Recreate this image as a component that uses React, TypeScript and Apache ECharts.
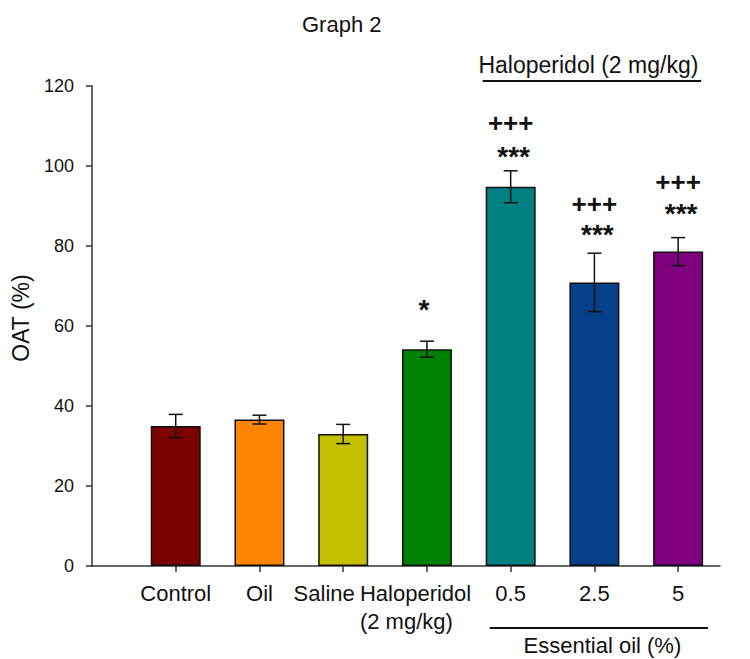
import React, { useEffect, useRef } from "react";
import * as echarts from "echarts";

// ---- data ----
const categories = ["Control", "Oil", "Saline", "Haloperidol\n(2 mg/kg)", "0.5", "2.5", "5"];
const means = [35.0, 36.6, 33.0, 54.2, 94.8, 70.9, 78.6];
const sems = [2.9, 1.1, 2.4, 2.0, 4.0, 7.3, 3.5];
const barColors = ["#7b0000", "#ff8500", "#c4c000", "#008000", "#008080", "#063f8a", "#7f007f"];
const starMarks = ["", "", "", "*", "***", "***", "***"];
const starY = [0, 0, 0, 65.7, 103.8, 84.4, 89.7];
const plusMarks = ["", "", "", "", "+++", "+++", "+++"];
const plusY = [0, 0, 0, 0, 110.8, 90.4, 96.1];
const yTicks = [0, 20, 40, 60, 80, 100, 120];
const bracketTop = "Haloperidol (2 mg/kg)";
const bracketBottom = "Essential oil (%)";
const groupStart = 4;
const groupEnd = 6;

const FONT = 'Arial, "Liberation Sans", Helvetica, sans-serif';
const BAR_W = 50;

export default function App() {
  const ref = useRef<HTMLDivElement>(null);
  useEffect(() => {
    if (!ref.current) return;
    const chart = echarts.init(ref.current, undefined, { renderer: "svg" });
    const catIdx = categories.map((_, i) => i);
    const option: any = {
      animation: false,
      backgroundColor: "#ffffff",
      textStyle: { fontFamily: FONT },
      title: {
        text: "Graph 2",
        left: 297,
        top: 8,
        textStyle: { fontFamily: FONT, fontSize: 22, fontWeight: "normal", color: "#111" },
      },
      grid: { left: 92, right: 30, top: 86, bottom: 93, outerBoundsMode: "none", containLabel: false },
      xAxis: {
        type: "value",
        min: -1,
        max: 6.5,
        interval: 1,
        splitLine: { show: false },
        axisLine: { show: true, onZero: false, lineStyle: { color: "#333", width: 1.5 } },
        axisTick: { show: true, length: 6, customValues: catIdx, lineStyle: { color: "#333", width: 1.5 } },
        axisLabel: {
          customValues: catIdx,
          fontFamily: FONT,
          fontSize: 22,
          color: "#111",
          margin: 13,
          lineHeight: 28,
          formatter: (v: number) => {
            const i = Math.round(v);
            const s = categories[i] ?? "";
            if (s.indexOf("\n") >= 0) {
              return s.split("\n").map((p) => "{h|" + p + "}").join("\n");
            }
            if (i === 2) return "{s|" + s + "}";
            return s;
          },
          rich: {
            h: {
              fontFamily: FONT,
              fontSize: 22,
              color: "#111",
              lineHeight: 28,
              width: 124,
              align: "left",
              padding: [0, 10, 0, 0],
            },
            s: { fontFamily: FONT, fontSize: 22, color: "#111", lineHeight: 28, padding: [0, 38, 0, 0] },
          },
        },
      },
      yAxis: {
        type: "value",
        min: yTicks[0],
        max: yTicks[yTicks.length - 1],
        interval: 20,
        splitLine: { show: false },
        axisLine: { show: true, onZero: false, lineStyle: { color: "#333", width: 1.5 } },
        axisTick: { show: true, length: 6, lineStyle: { color: "#333", width: 1.5 } },
        axisLabel: { fontFamily: FONT, fontSize: 18, color: "#111", margin: 18 },
        name: "OAT (%)",
        nameLocation: "middle",
        nameGap: 60,
        nameTextStyle: { fontFamily: FONT, fontSize: 23, color: "#111", padding: [0, 0, 0, 16] },
      },
      series: [
        {
          type: "bar",
          barWidth: BAR_W,
          data: means.map((v, i) => ({ value: [i, v], itemStyle: { color: barColors[i] } })),
          itemStyle: { borderColor: "#111", borderWidth: 1.5 },
          z: 2,
        },
        {
          type: "custom",
          z: 3,
          data: means.map((v, i) => [i, v, sems[i]]),
          renderItem: (_p: any, api: any) => {
            const x = api.value(0);
            const m = api.value(1);
            const e = api.value(2);
            const t = api.coord([x, m + e]);
            const b = api.coord([x, m - e]);
            const cap = 7;
            const st = { stroke: "#111", lineWidth: 1.5 };
            return {
              type: "group",
              children: [
                { type: "line", shape: { x1: t[0], y1: t[1], x2: b[0], y2: b[1] }, style: st },
                { type: "line", shape: { x1: t[0] - cap, y1: t[1], x2: t[0] + cap, y2: t[1] }, style: st },
                { type: "line", shape: { x1: b[0] - cap, y1: b[1], x2: b[0] + cap, y2: b[1] }, style: st },
              ],
            };
          },
        },
        {
          type: "custom",
          z: 4,
          clip: false,
          data: catIdx.map((i) => [i, starY[i], plusY[i]]),
          renderItem: (p: any, api: any) => {
            const i = p.dataIndex;
            const children: any[] = [];
            if (starMarks[i]) {
              const c = api.coord([api.value(0), api.value(1)]);
              children.push({
                type: "text",
                x: c[0] + (starMarks[i].length > 1 ? 3 : -3),
                y: c[1] + 6,
                style: {
                  text: starMarks[i],
                  fontFamily: FONT,
                  fontSize: 28,
                  fontWeight: "bold",
                  fill: "#111",
                  align: "center",
                  verticalAlign: "middle",
                },
              });
            }
            if (plusMarks[i]) {
              const c = api.coord([api.value(0), api.value(2)]);
              children.push({
                type: "text",
                x: c[0],
                y: c[1],
                style: {
                  text: plusMarks[i],
                  fontFamily: FONT,
                  fontSize: 26,
                  fontWeight: "bold",
                  fill: "#111",
                  align: "center",
                  verticalAlign: "middle",
                },
              });
            }
            return { type: "group", children };
          },
        },
        {
          type: "custom",
          z: 4,
          clip: false,
          data: [[groupStart, groupEnd]],
          renderItem: (_p: any, api: any) => {
            const x1 = api.coord([api.value(0), 0])[0] - BAR_W / 2;
            const x2 = api.coord([api.value(1), 0])[0] + BAR_W / 2;
            const yTop = api.coord([0, yTicks[yTicks.length - 1]])[1];
            const yBase = api.coord([0, 0])[1];
            const ls = { stroke: "#111", lineWidth: 2 };
            const ts = {
              fontFamily: FONT,
              fontSize: 23,
              fill: "#111",
              align: "center",
              verticalAlign: "middle",
            };
            return {
              type: "group",
              children: [
                { type: "line", shape: { x1: x1 - 3, y1: yTop - 5, x2: x2 - 2, y2: yTop - 5 }, style: ls },
                { type: "text", x: (x1 + x2) / 2 - 6, y: yTop - 21, style: { ...ts, text: bracketTop } },
                { type: "line", shape: { x1: x1 + 4, y1: yBase + 62, x2: x2 + 5, y2: yBase + 62 }, style: ls },
                {
                  type: "text",
                  x: (x1 + x2) / 2 + 8,
                  y: yBase + 79,
                  style: { ...ts, fontSize: 22, text: bracketBottom },
                },
              ],
            };
          },
        },
      ],
    };
    chart.setOption(option);
    return () => chart.dispose();
  }, []);
  return (
    <div
      ref={ref}
      style={{ position: "fixed", left: 0, top: 0, width: 750, height: 659, background: "#fff" }}
    />
  );
}
